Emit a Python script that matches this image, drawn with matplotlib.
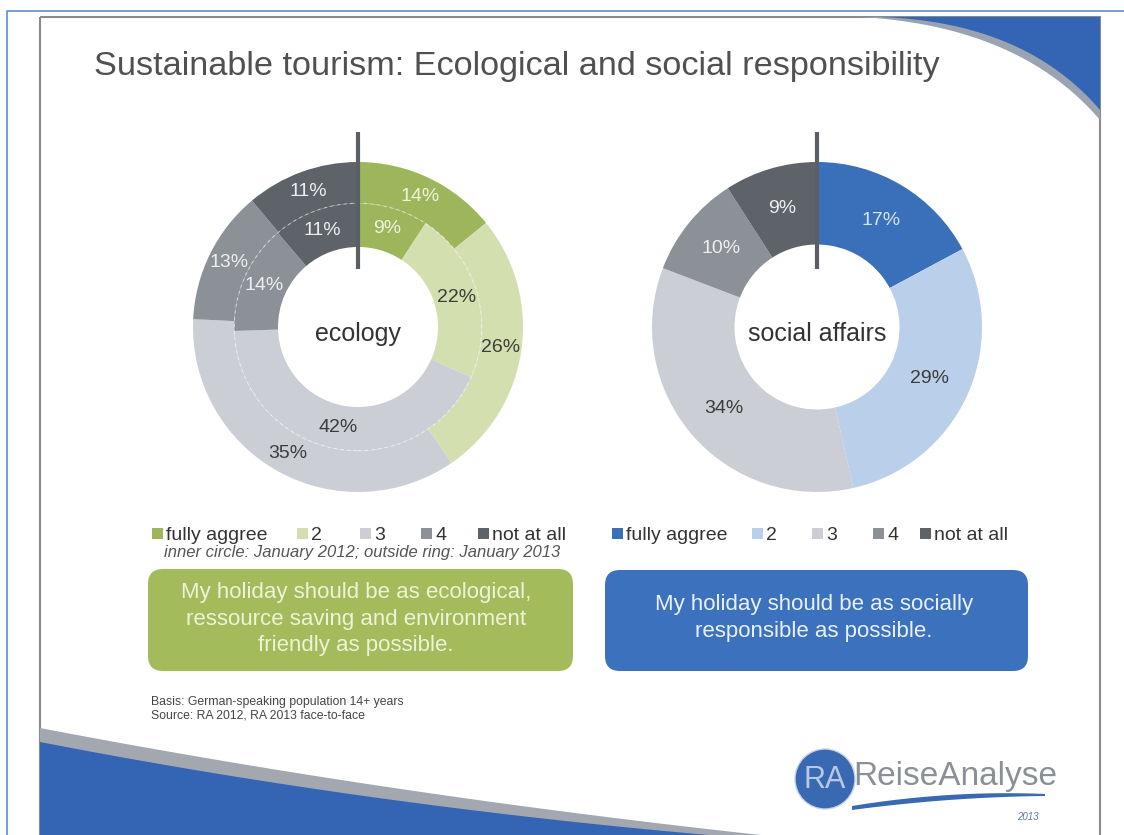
import numpy as np
import matplotlib
matplotlib.use('Agg')
import matplotlib.pyplot as plt
from matplotlib.patches import Rectangle, FancyBboxPatch, Circle, Polygon

plt.rcParams['font.family'] = ['Liberation Sans', 'DejaVu Sans']

# ---- data ----
categories = ['fully aggree', '2', '3', '4', 'not at all']
eco_2013 = [14, 26, 35, 13, 11]    # outside ring
eco_2012 = [9, 22, 42, 14, 11]     # inner circle
social_2013 = [17, 29, 34, 10, 9]

eco_colors = ['#9db65b', '#d4dfb0', '#cbcfd5', '#8c9198', '#5e636a']
soc_colors = ['#3a70ba', '#b9cfea', '#cbcfd5', '#8c9198', '#5e636a']
eco_txt = ['#eef3dc', '#3c3c3c', '#3c3c3c', '#eeeeee', '#eeeeee']
soc_txt = ['#d6e4f6', '#3c3c3c', '#3c3c3c', '#eeeeee', '#eeeeee']

W, H = 1124, 835
fig = plt.figure(figsize=(W / 100, H / 100), dpi=100)
fig.patch.set_facecolor('white')

# background / slide decoration in pixel coordinates
bg = fig.add_axes([0, 0, 1, 1])
bg.set_xlim(0, W)
bg.set_ylim(H, 0)
bg.axis('off')

# outer thin blue frame
bg.plot([7, 7, W], [H, 11, 11], color='#5b8fd0', lw=1.2)
# slide frame
bg.add_patch(Rectangle((40, 17), 1060, 830, fill=False, ec='#8a8a8a', lw=1.5))

def bez(p0, p1, p2, n=60):
    t = np.linspace(0, 1, n)[:, None]
    return (1 - t) ** 2 * np.array(p0) + 2 * (1 - t) * t * np.array(p1) + t ** 2 * np.array(p2)

# top right swoosh
g = bez((860, 17), (1020, 26), (1100, 120))
bg.add_patch(Polygon(np.vstack([g, [[1100, 17]]]), closed=True, fc='#9aa3b0', ec='none'))
b = bez((880, 17), (1025, 22), (1100, 110))
bg.add_patch(Polygon(np.vstack([b, [[1100, 17]]]), closed=True, fc='#3465b5', ec='none'))

# bottom left swoosh
g = bez((40, 728), (390, 795), (770, 836))
bg.add_patch(Polygon(np.vstack([g, [[40, 836]]]), closed=True, fc='#a3a8b0', ec='none'))
b = bez((40, 742), (370, 806), (720, 836))
bg.add_patch(Polygon(np.vstack([b, [[40, 836]]]), closed=True, fc='#3464b4', ec='none'))

# title
bg.text(94, 67, 'Sustainable tourism: Ecological and social responsibility',
        fontsize=24.7, color='#505050', va='center', ha='left')

# legends
leg_y = 535
eco_leg_x = [152, 297, 360, 421, 478]
soc_leg_x = [612, 752, 812, 873, 920]
for xs, cols in [(eco_leg_x, eco_colors), (soc_leg_x, soc_colors)]:
    for x, c, lab in zip(xs, cols, categories):
        bg.add_patch(Rectangle((x, leg_y - 7), 11, 11, fc=c, ec='none'))
        bg.text(x + 14, leg_y, lab, fontsize=14, color='#333333', va='center', ha='left')
bg.text(362, 553, 'inner circle: January 2012; outside ring: January 2013',
        fontsize=12, style='italic', color='#555555', va='center', ha='center')

# statement boxes
bg.add_patch(FancyBboxPatch((148, 569), 425, 102, boxstyle='round,pad=0,rounding_size=15',
                            fc='#a4bb5c', ec='none'))
bg.text(356, 619, 'My holiday should be as ecological,\nressource saving and environment\nfriendly as possible.',
        fontsize=16, color='#eef2d8', ha='center', va='center', linespacing=1.36)
bg.add_patch(FancyBboxPatch((605, 570), 423, 101, boxstyle='round,pad=0,rounding_size=15',
                            fc='#3c72bd', ec='none'))
bg.text(814, 618, 'My holiday should be as socially\nresponsible as possible.',
        fontsize=16, color='#eaf0f9', ha='center', va='center', linespacing=1.36)

# footnote
bg.text(151, 702, 'Basis: German-speaking population 14+ years', fontsize=8.8, color='#444444', va='center')
bg.text(151, 716, 'Source: RA 2012, RA 2013 face-to-face', fontsize=8.8, color='#444444', va='center')

# logo
bg.add_patch(Circle((825, 779), 30, fc='#3a69b3', ec='#c8d3e6', lw=1))
bg.text(825, 780, 'RA', fontsize=22, color='#b9c8e2', ha='center', va='center')
bg.text(853, 776, 'ReiseAnalyse', fontsize=24, color='#8a9097', ha='left', va='center')
sw_top = bez((852, 806), (950, 790), (1045, 794), 40)
sw_bot = bez((1045, 796), (950, 797), (852, 810), 40)
bg.add_patch(Polygon(np.vstack([sw_top, sw_bot]), closed=True, fc='#3a69b3', ec='none'))
bg.text(1028, 817, '2013', fontsize=7, style='italic', color='#5f78a8', ha='center', va='center')


def donut_axes(cx, cy, r):
    return fig.add_axes([(cx - r) / W, (H - cy - r) / H, 2 * r / W, 2 * r / H])

# ecology donut
R = 165
ax1 = donut_axes(358, 327, R)
w_out, t_out = ax1.pie(eco_2013, colors=eco_colors, radius=1.0, startangle=90, counterclock=False,
                       labels=[f'{v}%' for v in eco_2013], labeldistance=0.875,
                       wedgeprops=dict(width=0.25, linewidth=0))
w_in, t_in = ax1.pie(eco_2012, colors=eco_colors, radius=0.75, startangle=90, counterclock=False,
                     labels=[f'{v}%' for v in eco_2012], labeldistance=0.83,
                     wedgeprops=dict(width=0.265, linewidth=0))
for txts in (t_out, t_in):
    for t, c in zip(txts, eco_txt):
        t.set_ha('center'); t.set_va('center'); t.set_color(c); t.set_fontsize(14)
ring = Circle((0, 0), 0.75, fill=False, ec='white', lw=0.8, ls=(0, (3, 3)), alpha=0.5)
ax1.add_patch(ring)
ax1.plot([0, 0], [0.35, 1.18], color='#5a5f66', lw=3, clip_on=False, solid_capstyle='butt')
ax1.text(0, -0.04, 'ecology', fontsize=18, color='#333333', ha='center', va='center')
ax1.set_xlim(-1, 1); ax1.set_ylim(-1, 1)
ax1.axis('off')

# social affairs donut
ax2 = donut_axes(817, 327, R)
w_s, t_s = ax2.pie(social_2013, colors=soc_colors, radius=1.0, startangle=90, counterclock=False,
                   labels=[f'{v}%' for v in social_2013], labeldistance=0.75,
                   wedgeprops=dict(width=0.5, linewidth=0))
for t, c in zip(t_s, soc_txt):
    t.set_ha('center'); t.set_va('center'); t.set_color(c); t.set_fontsize(14)
ax2.plot([0, 0], [0.35, 1.18], color='#5a5f66', lw=3, clip_on=False, solid_capstyle='butt')
ax2.text(0, -0.04, 'social affairs', fontsize=18, color='#333333', ha='center', va='center')
ax2.set_xlim(-1, 1); ax2.set_ylim(-1, 1)
ax2.axis('off')

plt.savefig('out.png', dpi=100)
